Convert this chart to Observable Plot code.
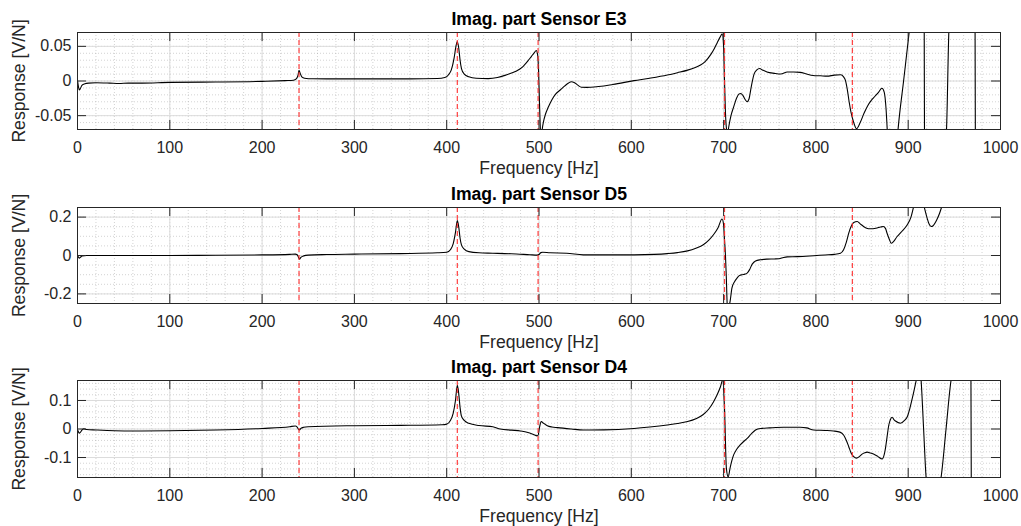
<!DOCTYPE html>
<html>
<head>
<meta charset="utf-8">
<script src="https://cdn.jsdelivr.net/npm/d3@7"></script>
<script src="https://cdn.jsdelivr.net/npm/@observablehq/plot@0.6"></script>
<style>
  html, body { margin: 0; padding: 0; background: #fff; }
  #chart svg { display: block; }
</style>
</head>
<body>
<div id="chart"></div>
<script>
// ---------- data ----------
const titles = ["Imag. part Sensor E3", "Imag. part Sensor D5", "Imag. part Sensor D4"];
const xLabel = "Frequency [Hz]";
const yLabel = "Response [V/N]";

const xTicks = [0, 100, 200, 300, 400, 500, 600, 700, 800, 900, 1000];
const xTickLabels = ["0", "100", "200", "300", "400", "500", "600", "700", "800", "900", "1000"];

const modeFreqs = [240, 411.5, 499, 701, 839.5];

const e3YDomain = [-0.07, 0.07];
const e3YTicks = [-0.05, 0, 0.05];
const e3YTickLabels = ["-0.05", "0", "0.05"];

const d5YDomain = [-0.25, 0.25];
const d5YTicks = [-0.2, 0, 0.2];
const d5YTickLabels = ["-0.2", "0", "0.2"];

const d4YDomain = [-0.17, 0.17];
const d4YTicks = [-0.1, 0, 0.1];
const d4YTickLabels = ["-0.1", "0", "0.1"];

const e3Freq = [0, 1, 2, 3, 5, 8, 12, 20, 35, 45, 55, 70, 100, 150, 200, 225, 234, 237, 239, 240, 241, 243, 246, 255, 280, 320, 360, 390, 398, 402, 405, 408, 410, 411.5, 413, 414.5, 416, 419, 424, 432, 445, 455, 465, 475, 482, 488, 492, 495, 497, 498.5, 499.5, 500.5, 501.5, 502.5, 503.5, 505, 507, 510, 514, 518, 523, 528, 532, 535, 538, 542, 546, 552, 556, 580, 603, 620, 639, 650, 661, 670, 675, 680, 686, 690, 693, 696, 698.5, 700, 701, 702, 703.5, 704.5, 705.6, 708, 711, 714, 716.5, 718.5, 721, 723.5, 725.5, 727.5, 730, 733, 736, 739, 742, 747, 755, 762, 769, 776, 783, 790, 797, 805, 812, 820, 827, 830, 832, 834, 836, 838, 841, 844, 848, 852, 856, 860, 864, 868, 871.5, 874, 876, 877.5, 880, 885, 889, 895, 901, 905, 910, 916, 917.2, 917.8, 920, 935, 941.5, 944, 946, 960, 971, 972.3, 972.9, 975, 1000];
const e3Resp = [0.001, -0.008, -0.013, -0.011, -0.006, -0.004, -0.003, -0.0025, -0.003, -0.0035, -0.003, -0.003, -0.002, -0.0015, -0.0005, 0.0005, 0.001, 0.003, 0.009, 0.0155, 0.012, 0.006, 0.004, 0.0032, 0.003, 0.003, 0.003, 0.0035, 0.005, 0.009, 0.016, 0.033, 0.05, 0.057, 0.048, 0.03, 0.018, 0.01, 0.006, 0.004, 0.0035, 0.005, 0.009, 0.014, 0.02, 0.029, 0.036, 0.041, 0.044, 0.038, 0.015, -0.03, -0.07, -0.085, -0.07, -0.058, -0.048, -0.038, -0.027, -0.019, -0.013, -0.007, -0.003, -0.001, -0.002, -0.006, -0.009, -0.0092, -0.009, -0.005, 0.0005, 0.004, 0.0086, 0.012, 0.0157, 0.02, 0.023, 0.028, 0.038, 0.047, 0.055, 0.063, 0.068, 0.05, 0.0, -0.045, -0.072, -0.075, -0.066, -0.05, -0.037, -0.025, -0.019, -0.018, -0.021, -0.027, -0.03, -0.026, -0.008, 0.01, 0.016, 0.018, 0.016, 0.013, 0.011, 0.01, 0.013, 0.013, 0.0125, 0.01, 0.008, 0.0075, 0.007, 0.0085, 0.009, 0.006, 0.001, -0.012, -0.03, -0.045, -0.06, -0.069, -0.06, -0.047, -0.036, -0.028, -0.022, -0.016, -0.0105, -0.016, -0.04, -0.075, -0.12, -0.14, -0.07, 0.0, 0.07, 0.12, 0.15, 0.16, 0.15, -0.15, -0.16, -0.16, -0.07, 0.07, 0.12, 0.15, 0.16, 0.15, -0.15, -0.16, -0.16];

const d5Freq = [0, 1, 2, 3, 5, 10, 50, 100, 150, 200, 230, 236, 238, 239.5, 240.5, 242, 245, 250, 270, 300, 350, 390, 400, 404, 407, 409.5, 411.5, 413, 414.5, 416, 419, 424, 435, 450, 470, 490, 498, 500, 502, 504, 512, 530, 548, 570, 603, 625, 639, 650, 661, 670, 678, 684, 689, 694, 698.3, 700, 701, 702, 703, 704, 705, 707, 709, 712, 714.5, 717, 720, 723, 725.5, 728, 731, 734.6, 740, 747, 755, 760, 765, 769, 780, 797.7, 810, 820, 826.6, 830, 833, 835.6, 838, 841, 844.8, 848, 851.7, 855, 859, 865, 870, 873, 875.5, 877, 879.5, 881.5, 884, 888, 893, 899, 903, 906, 908, 912, 916, 918, 920.5, 922.5, 924.8, 927, 931, 934, 936.5, 940, 960, 1000];
const d5Resp = [0.0, -0.008, -0.014, -0.01, -0.003, 0, 0, 0, 0.001, 0.003, 0.006, 0.007, 0.004, -0.01, -0.019, -0.01, -0.002, 0.002, 0.005, 0.007, 0.01, 0.014, 0.017, 0.03, 0.06, 0.12, 0.182, 0.15, 0.09, 0.055, 0.033, 0.02, 0.014, 0.012, 0.009, 0.004, 0.002, 0.005, 0.015, 0.017, 0.014, 0.012, 0.0035, 0.003, 0.0035, 0.006, 0.01, 0.015, 0.024, 0.038, 0.056, 0.08, 0.108, 0.145, 0.19, 0.16, 0.08, 0.003, -0.12, -0.26, -0.27, -0.24, -0.17, -0.135, -0.118, -0.105, -0.1, -0.097, -0.092, -0.075, -0.045, -0.028, -0.022, -0.019, -0.018, -0.017, -0.01, -0.007, -0.006, -0.001, 0.003, 0.006, 0.012, 0.03, 0.07, 0.117, 0.15, 0.172, 0.177, 0.165, 0.151, 0.142, 0.139, 0.142, 0.148, 0.151, 0.14, 0.117, 0.085, 0.064, 0.072, 0.099, 0.125, 0.16, 0.2, 0.256, 0.29, 0.32, 0.28, 0.24, 0.195, 0.165, 0.151, 0.155, 0.186, 0.22, 0.256, 0.3, 0.4, 0.45];

const d4Freq = [0, 1, 2, 3, 5, 7, 10, 20, 40, 60, 100, 150, 200, 230, 236, 238, 239.5, 240.5, 242, 245, 250, 300, 350, 395, 400, 404, 407, 409.5, 411.5, 413, 414.5, 416, 419, 424, 435, 450, 458, 470, 480, 488, 494, 498, 499, 500.5, 502.4, 505, 509, 514, 520, 535, 548, 570, 603, 620, 639, 650, 661, 670, 678, 684, 689, 693, 696.6, 699, 701, 703, 705, 707, 709, 711, 714, 718, 722, 725.5, 730, 734.6, 740, 750, 765, 783, 790, 797.5, 810, 819, 826, 830, 833, 835.6, 838, 841, 844, 847, 850, 853, 855.6, 859, 862.4, 867, 871.8, 874, 875.4, 877, 879, 881, 882.6, 884.5, 886.2, 891.7, 896, 899, 902, 904.4, 907, 909, 911, 913, 914, 916.7, 919.4, 921, 930, 935.6, 941, 946.4, 950, 960, 967.9, 968.4, 975, 1000];
const d4Resp = [-0.002, -0.01, -0.015, -0.012, -0.003, 0.001, -0.002, -0.0035, -0.006, -0.007, -0.006, -0.0035, 0.002, 0.008, 0.0105, 0.007, -0.001, -0.0035, 0.002, 0.006, 0.008, 0.0116, 0.0128, 0.015, 0.017, 0.03, 0.055, 0.1, 0.153, 0.125, 0.075, 0.045, 0.03, 0.02, 0.012, 0.008, 0.0, -0.004, -0.007, -0.012, -0.019, -0.024, -0.022, 0.005, 0.026, 0.02, 0.0116, 0.007, 0.0047, 0.0, -0.0035, -0.003, 0.002, 0.007, 0.014, 0.019, 0.026, 0.036, 0.051, 0.07, 0.095, 0.12, 0.148, 0.172, 0.072, -0.137, -0.168, -0.137, -0.11, -0.09, -0.072, -0.056, -0.043, -0.033, -0.017, -0.0035, 0.002, 0.004, 0.006, 0.006, 0.004, -0.0035, -0.005, -0.007, -0.011, -0.021, -0.04, -0.062, -0.083, -0.097, -0.102, -0.097, -0.088, -0.083, -0.081, -0.084, -0.088, -0.096, -0.105, -0.09, -0.067, -0.03, 0.014, 0.035, 0.041, 0.033, 0.028, 0.02, 0.03, 0.043, 0.075, 0.107, 0.145, 0.175, 0.2, 0.21, 0.17, 0.0, -0.17, -0.21, -0.23, -0.17, 0.0, 0.17, 0.22, 0.23, 0.25, -0.25, -0.27, -0.3];

// ---------- drawing ----------
const FONT = "'Liberation Sans', Arial, Helvetica, sans-serif";
const INK = "#262626";

function panel({title, freq, resp, yDomain, yTicks, yTickLabels, yMinorStep, height, marginTop, marginBottom}) {
  const width = 1021, marginLeft = 77, marginRight = 21;
  const plotW = width - marginLeft - marginRight;
  const plotH = height - marginTop - marginBottom;
  const tickLen = 9;
  const pts = freq.map((f, i) => ({f, v: resp[i]}));
  const xMinor = d3.range(0, 1000.001, 20);
  const yMinor = d3.range(Math.ceil(yDomain[0] / yMinorStep - 1e-9), Math.floor(yDomain[1] / yMinorStep + 1e-9) + 1).map(k => k * yMinorStep);
  const xFmt = d => xTickLabels[xTicks.indexOf(d)];
  const yFmt = d => yTickLabels[yTicks.indexOf(d)];
  return Plot.plot({
    width, height, marginLeft, marginRight, marginTop, marginBottom,
    style: {fontFamily: FONT, fontSize: "16px", color: INK, background: "transparent", overflow: "visible"},
    x: {domain: [0, 1000], axis: null},
    y: {domain: yDomain, axis: null},
    marks: [
      Plot.ruleX(xMinor, {x: d => d, stroke: "#9a9a9a", strokeOpacity: 0.55, strokeDasharray: "1,2", strokeWidth: 0.8}),
      Plot.ruleY(yMinor, {y: d => d, stroke: "#9a9a9a", strokeOpacity: 0.55, strokeDasharray: "1,2", strokeWidth: 0.8}),
      Plot.ruleX(xTicks, {x: d => d, stroke: "#dcdcdc", strokeWidth: 1}),
      Plot.ruleY(yTicks, {y: d => d, stroke: "#dcdcdc", strokeWidth: 1}),
      Plot.line(pts, {x: "f", y: "v", stroke: "#000", strokeWidth: 1.1, curve: "monotone-x", clip: true}),
      Plot.ruleX(modeFreqs, {x: d => d, stroke: "#ff2a2a", strokeWidth: 1.2, strokeDasharray: "5,3", strokeOpacity: 0.9}),
      Plot.ruleX(xTicks, {x: d => d, stroke: INK, insetTop: plotH - tickLen}),
      Plot.ruleX(xTicks, {x: d => d, stroke: INK, insetBottom: plotH - tickLen}),
      Plot.ruleY(yTicks, {y: d => d, stroke: INK, insetRight: plotW - tickLen}),
      Plot.ruleY(yTicks, {y: d => d, stroke: INK, insetLeft: plotW - tickLen}),
      Plot.frame({stroke: INK, strokeWidth: 1}),
      Plot.axisX(xTicks, {anchor: "bottom", tickSize: 0, tickPadding: 12.5, tickFormat: xFmt, label: null, fill: INK}),
      Plot.axisY(yTicks, {anchor: "left", tickSize: 0, tickPadding: 6, tickFormat: yFmt, label: null, fill: INK}),
      Plot.text([title], {frameAnchor: "top", dy: -13.5, lineAnchor: "middle", textAnchor: "middle", fontWeight: "bold", fontSize: 17.6, fill: "#000"}),
      Plot.text([xLabel], {frameAnchor: "bottom", dy: 39, lineAnchor: "middle", textAnchor: "middle", fontSize: 17.6, fill: INK}),
      Plot.text([yLabel], {frameAnchor: "left", dx: -58, rotate: -90, lineAnchor: "middle", textAnchor: "middle", fontSize: 17.6, fill: INK})
    ]
  });
}

const chart = document.getElementById("chart");
chart.append(panel({title: titles[0], freq: e3Freq, resp: e3Resp, yDomain: e3YDomain, yTicks: e3YTicks, yTickLabels: e3YTickLabels, yMinorStep: 0.01, height: 175, marginTop: 32, marginBottom: 46}));
chart.append(panel({title: titles[1], freq: d5Freq, resp: d5Resp, yDomain: d5YDomain, yTicks: d5YTicks, yTickLabels: d5YTickLabels, yMinorStep: 0.05, height: 175, marginTop: 32, marginBottom: 47}));
chart.append(panel({title: titles[2], freq: d4Freq, resp: d4Resp, yDomain: d4YDomain, yTicks: d4YTicks, yTickLabels: d4YTickLabels, yMinorStep: 0.02, height: 176, marginTop: 30, marginBottom: 49}));
</script>
</body>
</html>
